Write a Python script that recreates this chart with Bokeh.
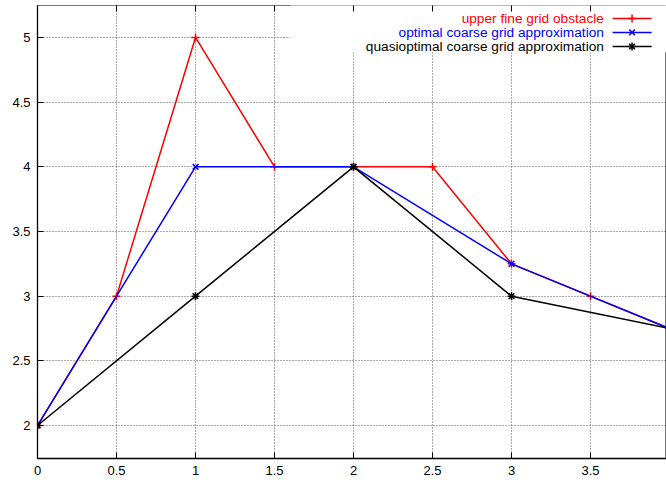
from bokeh.plotting import figure
from bokeh.models import Range1d, FixedTicker, LinearAxis, BoxAnnotation, Label, Arrow
from bokeh.embed import file_html
from bokeh.resources import INLINE

# ---- data ----
red_x = [0, 0.5, 1, 1.5, 2, 2.5, 3, 3.5, 4]
red_y = [2, 3, 5, 4, 4, 4, 3.25, 3, 2.75]
blue_x = [0, 1, 2, 3, 4]
blue_y = [2, 4, 4, 3.25, 2.75]
black_x = [0, 1, 2, 3, 4]
black_y = [2, 3, 4, 3, 2.75]
series_names = ["upper fine grid obstacle",
                "optimal coarse grid approximation",
                "quasioptimal coarse grid approximation"]
x_ticks = [0, 0.5, 1, 1.5, 2, 2.5, 3, 3.5]
x_tick_labels = ["0", "0.5", "1", "1.5", "2", "2.5", "3", "3.5"]
y_ticks = [2, 2.5, 3, 3.5, 4, 4.5, 5]
y_tick_labels = ["2", "2.5", "3", "3.5", "4", "4.5", "5"]

FONT = "Liberation Sans"

p = figure(width=666, height=485, output_backend="svg", toolbar_location=None,
           x_range=Range1d(0, 3.981), y_range=Range1d(1.745, 5.247),
           min_border_left=37, min_border_right=0, min_border_top=5,
           min_border_bottom=27)
p.background_fill_color = "white"
p.border_fill_color = "white"
p.outline_line_color = "#777777"
p.outline_line_width = 1

# grid
for g in (p.xgrid, p.ygrid):
    g.grid_line_color = "#555555"
    g.grid_line_dash = "1 2"
    g.grid_line_width = 1
p.xgrid.ticker = FixedTicker(ticks=x_ticks)
p.ygrid.ticker = FixedTicker(ticks=y_ticks)

# axes
for ax, ticks, labels in ((p.xaxis[0], x_ticks, x_tick_labels), (p.yaxis[0], y_ticks, y_tick_labels)):
    ax.ticker = FixedTicker(ticks=ticks)
    ax.major_label_overrides = {t: l for t, l in zip(ticks, labels)}
    ax.major_tick_in = 6
    ax.major_tick_out = 0
    ax.minor_tick_line_color = None
    ax.axis_line_color = "black"
    ax.axis_line_width = 1.3
    ax.major_tick_line_color = "black"
    ax.major_label_text_font = FONT
    ax.major_label_text_font_size = "13px"
    ax.major_label_text_color = "black"
    ax.major_label_standoff = 7

top = LinearAxis(ticker=FixedTicker(ticks=x_ticks), major_tick_in=6, major_tick_out=0,
                 minor_tick_line_color=None, axis_line_color=None,
                 major_label_overrides={t: "" for t in x_ticks},
                 major_label_text_font_size="1px", major_label_standoff=0,
                 major_tick_line_color="black")
p.add_layout(top, "above")

# white key background (hides the grid behind the key)
key_bg = BoxAnnotation(left=1.60, right=4.2, bottom=4.885, top=5.3,
                       fill_color="white", fill_alpha=1.0, line_color=None,
                       level="underlay")
p.add_layout(key_bg)

# data
colors = ["#ff0000", "#0000ff", "#000000"]
markers = ["cross", "x", "asterisk"]
for xs, ys, c, m in ((red_x, red_y, colors[0], markers[0]),
                     (blue_x, blue_y, colors[1], markers[1]),
                     (black_x, black_y, colors[2], markers[2])):
    p.line(xs, ys, line_color=c, line_width=1.5)
    p.scatter(xs, ys, marker=m, size=8, line_color=c, line_width=1.5)

# key (gnuplot style: text right aligned, sample to the right)
key_y = [5.147, 5.039, 4.930]
for name, c, m, ky in zip(series_names, colors, markers, key_y):
    p.add_layout(Label(x=3.585, y=ky, text=name, text_align="right",
                       text_baseline="middle", text_font=FONT,
                       text_font_size="13.7px", text_color=c))
    p.add_layout(Arrow(x_start=3.64, y_start=ky, x_end=3.887, y_end=ky,
                       end=None, line_color=c, line_width=1.5))
    p.scatter([3.763], [ky], marker=m, size=8, line_color=c, line_width=1.5)

open("out.html", "w").write(file_html(p, INLINE))
